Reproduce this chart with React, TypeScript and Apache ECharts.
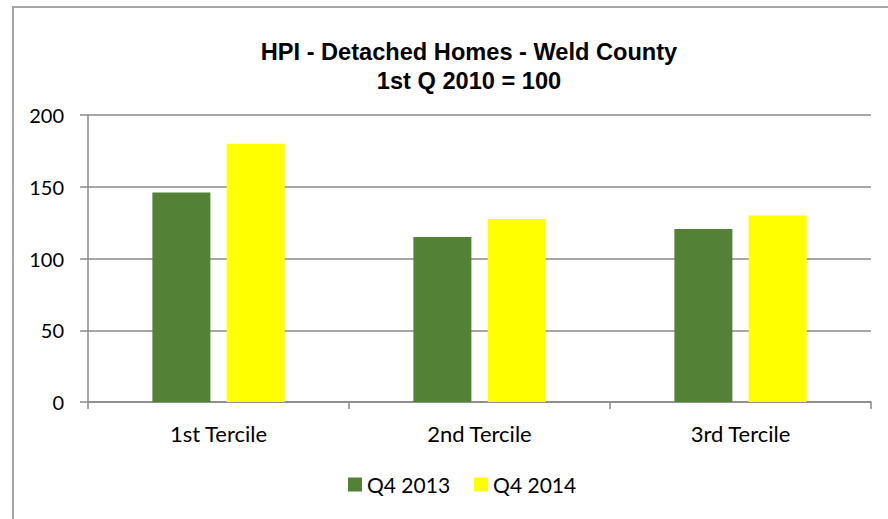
import React, { useEffect, useRef } from "react";
import * as echarts from "echarts";

const categories = ["1st Tercile", "2nd Tercile", "3rd Tercile"];
const seriesNames = ["Q4 2013", "Q4 2014"];
const q4_2013 = [146, 115, 120.5];
const q4_2014 = [180, 127.5, 130];
const titleLines = ["HPI - Detached Homes - Weld County", "1st Q 2010 = 100"];

export default function App() {
  const ref = useRef<HTMLDivElement>(null);
  useEffect(() => {
    if (!ref.current) return;
    const chart = echarts.init(ref.current, null, { renderer: "svg" });
    const labelFont = "Lato, 'Open Sans', sans-serif";
    chart.setOption({
      animation: false,
      backgroundColor: "#ffffff",
      title: {
        text: titleLines.join("\n"),
        left: 464,
        top: 32,
        textAlign: "center",
        textStyle: {
          fontFamily: "'Liberation Sans', Arial, sans-serif",
          fontWeight: "bold",
          fontSize: 23.6,
          lineHeight: 29,
          color: "#000",
        },
      },
      graphic: [
        {
          type: "rect",
          shape: { x: 13, y: 7, width: 1000, height: 700 },
          style: { fill: "none", stroke: "#a6a6a6", lineWidth: 2 },
          silent: true,
          z: -1,
        },
      ],
      legend: {
        data: seriesNames,
        left: 343,
        top: 469,
        itemWidth: 14,
        itemHeight: 14,
        itemGap: 24,
        icon: "rect",
        textStyle: { fontFamily: labelFont, fontSize: 21, color: "#000" },
      },
      grid: { left: 88, right: 17, top: 115, bottom: 117 },
      xAxis: {
        type: "category",
        data: categories,
        axisLine: { show: true, lineStyle: { color: "#898989", width: 1.5 } },
        axisTick: { show: true, length: 7, lineStyle: { color: "#898989", width: 1.5 } },
        axisLabel: { fontFamily: labelFont, fontSize: 22, color: "#000", margin: 20 },
      },
      yAxis: {
        type: "value",
        min: 0,
        max: 200,
        interval: 50,
        axisLine: { show: true, lineStyle: { color: "#898989", width: 1.5 } },
        axisTick: { show: true, length: 8, lineStyle: { color: "#898989", width: 1.5 } },
        axisLabel: { fontFamily: labelFont, fontSize: 20, color: "#000", margin: 24 },
        splitLine: { show: true, lineStyle: { color: "#898989", width: 1.5 } },
      },
      series: [
        {
          name: seriesNames[0],
          type: "bar",
          data: q4_2013,
          barWidth: 58,
          barGap: "28%",
          itemStyle: { color: "#538135" },
        },
        {
          name: seriesNames[1],
          type: "bar",
          data: q4_2014,
          barWidth: 58,
          barGap: "28%",
          itemStyle: { color: "#ffff00" },
        },
      ],
    });
    return () => chart.dispose();
  }, []);
  return (
    <div
      ref={ref}
      style={{ position: "fixed", left: 0, top: 0, width: 888, height: 519 }}
    />
  );
}
